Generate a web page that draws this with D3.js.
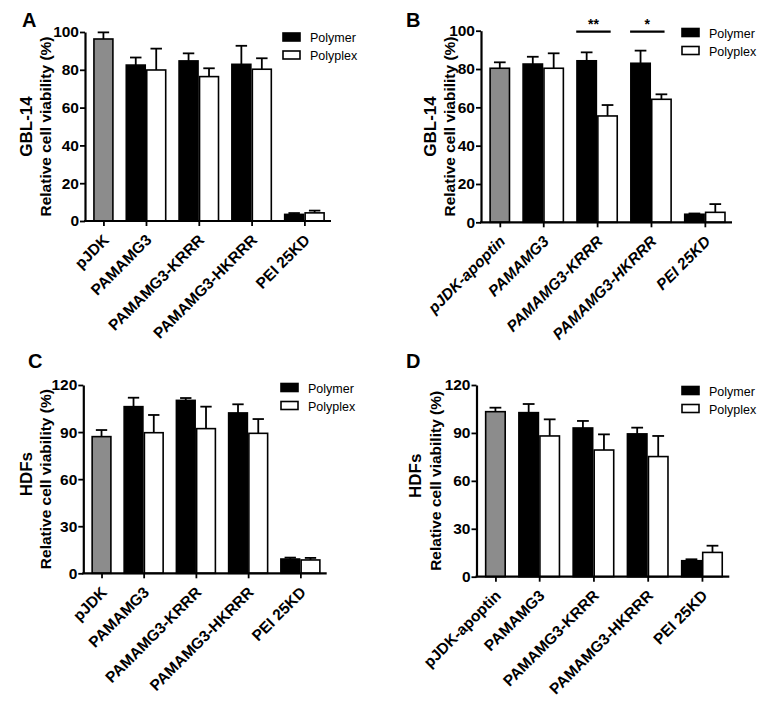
<!DOCTYPE html>
<html><head><meta charset="utf-8">
<script src="https://cdn.jsdelivr.net/npm/d3@7"></script>
<style>
body{margin:0;background:#fff}
svg{display:block}
text{font-family:"Liberation Sans",Arial,Helvetica,sans-serif}
</style>
</head><body>
<svg id="chart" width="761" height="720"></svg>
<script>
// ---------- data ----------
const categoriesAC = ["pJDK", "PAMAMG3", "PAMAMG3-KRRR", "PAMAMG3-HKRRR", "PEI 25KD"];
const categoriesBD = ["pJDK-apoptin", "PAMAMG3", "PAMAMG3-KRRR", "PAMAMG3-HKRRR", "PEI 25KD"];
const seriesNames = ["Polymer", "Polyplex"];
const ticksGBL = [0, 20, 40, 60, 80, 100];
const ticksHDF = [0, 30, 60, 90, 120];

// Panel A (GBL-14)
const controlA = 96.3, controlErrA = 3.5;
const polymerA = [82.5, 84.7, 82.9, 3.5];
const polymerErrA = [4.0, 4.0, 9.8, 0.7];
const polyplexA = [79.9, 76.4, 80.3, 4.3];
const polyplexErrA = [11.3, 4.4, 5.8, 1.2];

// Panel B (GBL-14, apoptin)
const controlB = 80.4, controlErrB = 3.1;
const polymerB = [82.6, 84.3, 83.0, 4.2];
const polymerErrB = [3.8, 4.4, 6.6, 0.4];
const polyplexB = [80.4, 55.5, 64.2, 5.2];
const polyplexErrB = [7.8, 5.7, 2.6, 4.3];
const sigB = [{group: 2, label: "**"}, {group: 3, label: "*"}];

// Panel C (HDFs)
const controlC = 87.1, controlErrC = 4.2;
const polymerC = [106.2, 110.2, 102.2, 9.1];
const polymerErrC = [5.7, 1.5, 5.5, 0.9];
const polyplexC = [89.6, 92.2, 89.2, 8.5];
const polyplexErrC = [11.3, 14.0, 9.1, 1.3];

// Panel D (HDFs, apoptin)
const controlD = 103.3, controlErrD = 2.5;
const polymerD = [102.7, 93.1, 89.4, 10.0];
const polymerErrD = [5.4, 4.4, 3.9, 0.9];
const polyplexD = [88.1, 79.3, 75.2, 15.2];
const polyplexErrD = [10.4, 9.8, 12.9, 4.2];

// ---------- layout ----------
const panels = [
  {letter:"A", cats:categoriesAC, italic:false, control:controlA, controlErr:controlErrA,
   polymer:polymerA, polymerErr:polymerErrA, polyplex:polyplexA, polyplexErr:polyplexErrA,
   cell:"GBL-14", ticks:ticksGBL, x0:85, x1:331, yTop:32, y0:221, cellShift:0,
   letterX:22, letterY:27, legX:283, legY:33, t1:32, t2:51, sig:[]},
  {letter:"B", cats:categoriesBD, italic:true, control:controlB, controlErr:controlErrB,
   polymer:polymerB, polymerErr:polymerErrB, polyplex:polyplexB, polyplexErr:polyplexErrB,
   cell:"GBL-14", ticks:ticksGBL, x0:481, x1:732, yTop:30.7, y0:222.3, cellShift:0,
   letterX:406, letterY:27, legX:682, legY:28.5, t1:436, t2:455, sig:sigB},
  {letter:"C", cats:categoriesAC, italic:false, control:controlC, controlErr:controlErrC,
   polymer:polymerC, polymerErr:polymerErrC, polyplex:polyplexC, polyplexErr:polyplexErrC,
   cell:"HDFs", ticks:ticksHDF, x0:83.3, x1:326.7, yTop:385, y0:573.3, cellShift:-5,
   letterX:28, letterY:368, legX:281, legY:383.5, t1:32, t2:51, sig:[]},
  {letter:"D", cats:categoriesBD, italic:false, control:controlD, controlErr:controlErrD,
   polymer:polymerD, polymerErr:polymerErrD, polyplex:polyplexD, polyplexErr:polyplexErrD,
   cell:"HDFs", ticks:ticksHDF, x0:476.5, x1:729.3, yTop:385, y0:576.7, cellShift:-5,
   letterX:406, letterY:368, legX:682, legY:386.5, t1:421, t2:441, sig:[]}
];

const PAD_L = 0.4, PAD_R = 0.3, GAP = 0.58;
const GRAY = "#8c8c8c";
const FONT = '"Liberation Sans",Arial,sans-serif';
const svg = d3.select("#chart");

panels.forEach(p => {
  const g = svg.append("g");
  const total = PAD_L + 1 + 4 * (GAP + 2) + PAD_R;
  const xu = d3.scaleLinear().domain([0, total]).range([p.x0, p.x1]);
  const ymax = p.ticks[p.ticks.length - 1];
  const y = d3.scaleLinear().domain([0, ymax]).range([p.y0, p.yTop]);
  const unit = xu(1) - xu(0);

  // bar start units
  const starts = [PAD_L];
  for (let i = 0; i < 4; i++) starts.push(PAD_L + 1 + GAP + i * (GAP + 2));
  const tickUnits = starts.map((s, i) => i === 0 ? s + 0.5 : s + 1);
  const xCat = d3.scaleOrdinal().domain(p.cats).range(tickUnits.map(u => xu(u)));

  // bars data
  const bars = [{u: starts[0], v: p.control, e: p.controlErr, fill: GRAY}];
  for (let i = 0; i < 4; i++) {
    bars.push({u: starts[i + 1], v: p.polymer[i], e: p.polymerErr[i], fill: "#000"});
    bars.push({u: starts[i + 1] + 1, v: p.polyplex[i], e: p.polyplexErr[i], fill: "#fff"});
  }

  // error bars (upward only)
  bars.forEach(b => {
    const cx = xu(b.u + 0.5);
    g.append("line").attr("x1", cx).attr("x2", cx)
      .attr("y1", y(b.v)).attr("y2", y(b.v + b.e))
      .attr("stroke", "#000").attr("stroke-width", 1.8);
    g.append("line").attr("x1", cx - unit * 0.28).attr("x2", cx + unit * 0.28)
      .attr("y1", y(b.v + b.e)).attr("y2", y(b.v + b.e))
      .attr("stroke", "#000").attr("stroke-width", 1.8);
  });

  g.selectAll("rect.bar").data(bars).join("rect")
    .attr("class", "bar")
    .attr("x", d => xu(d.u) + 0.75)
    .attr("width", d => unit - 1.5)
    .attr("y", d => y(d.v))
    .attr("height", d => y(0) - y(d.v))
    .attr("fill", d => d.fill)
    .attr("stroke", "#000").attr("stroke-width", 1.6);

  // y axis
  const ya = g.append("g").attr("transform", `translate(${p.x0},0)`)
    .call(d3.axisLeft(y).tickValues(p.ticks).tickSize(5).tickSizeOuter(0).tickPadding(1));
  ya.select(".domain").attr("stroke-width", 2.2);
  ya.selectAll(".tick line").attr("stroke-width", 1.8);
  ya.selectAll(".tick text").attr("font-size", 15.5).attr("font-weight", "bold")
    .attr("font-family", FONT).attr("fill", "#000");

  // x axis
  const xa = g.append("g").attr("transform", `translate(0,${p.y0})`)
    .call(d3.axisBottom(xCat).tickSize(5).tickSizeOuter(0));
  xa.select(".domain").attr("stroke-width", 2.2).attr("d", `M${p.x0 - 1},0H${p.x1}`);
  xa.selectAll(".tick line").attr("stroke-width", 1.8);
  xa.selectAll(".tick text")
    .attr("font-size", 15.5).attr("font-weight", "bold")
    .attr("font-style", p.italic ? "italic" : "normal")
    .attr("font-family", FONT).attr("fill", "#000")
    .attr("text-anchor", "end").attr("dy", null).attr("y", null)
    .attr("transform", "translate(6,20) rotate(-45)");

  // y titles
  const cy = (p.y0 + p.yTop) / 2;
  g.append("text").text(p.cell)
    .attr("transform", `translate(${p.t1},${cy + p.cellShift}) rotate(-90)`)
    .attr("text-anchor", "middle").attr("font-size", 17).attr("font-weight", "bold");
  g.append("text").text("Relative cell viability (%)")
    .attr("transform", `translate(${p.t2},${cy}) rotate(-90)`)
    .attr("text-anchor", "middle").attr("font-size", 15.5).attr("font-weight", "bold");

  // panel letter
  g.append("text").text(p.letter).attr("x", p.letterX).attr("y", p.letterY)
    .attr("font-size", 20).attr("font-weight", "bold");

  // legend
  seriesNames.forEach((s, i) => {
    const ly = p.legY + i * 18;
    g.append("rect").attr("x", p.legX).attr("y", ly).attr("width", 17).attr("height", 8)
      .attr("fill", i === 0 ? "#000" : "#fff").attr("stroke", "#000").attr("stroke-width", 1.6);
    g.append("text").text(s).attr("x", p.legX + 27).attr("y", ly + 9)
      .attr("font-size", 12.5);
  });

  // significance
  p.sig.forEach(sg => {
    const xa0 = xu(starts[sg.group]);
    const xa1 = xu(starts[sg.group] + 1.65);
    const ly = y(99.5);
    g.append("line").attr("x1", xa0).attr("x2", xa1).attr("y1", ly).attr("y2", ly)
      .attr("stroke", "#000").attr("stroke-width", 2.2);
    g.append("text").text(sg.label).attr("x", (xa0 + xa1) / 2).attr("y", ly - 3)
      .attr("text-anchor", "middle").attr("font-size", 14).attr("font-weight", "bold");
  });
});
</script>
</body></html>
